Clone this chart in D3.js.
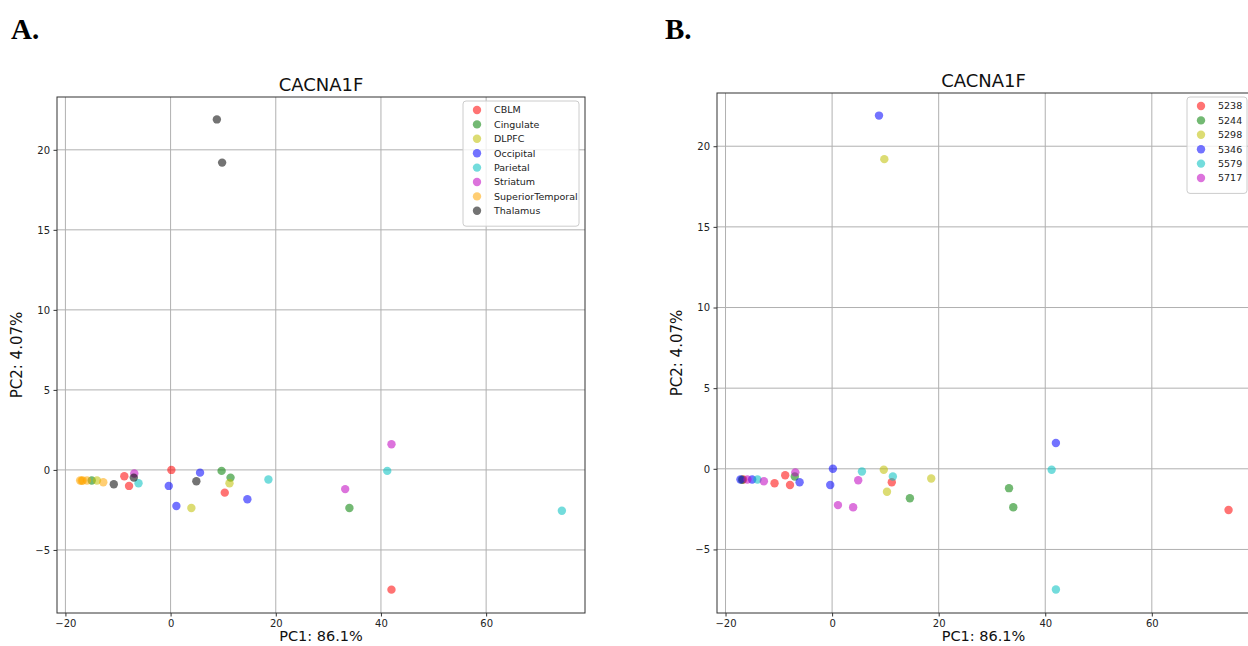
<!DOCTYPE html>
<html>
<head>
<meta charset="utf-8">
<script src="https://cdn.jsdelivr.net/npm/d3@7"></script>
<style>
body{margin:0;background:#fff;}
svg{display:block;font-family:"DejaVu Sans",sans-serif;}
</style>
</head>
<body>
<svg id="fig" width="1248" height="646"></svg>
<script>
// values
var regions = ['CBLM','Cingulate','DLPFC','Occipital','Parietal','Striatum','SuperiorTemporal','Thalamus'];
var regionColors = ['#ff0000','#008000','#bfbf00','#0000ff','#00bfbf','#bf00bf','#ffa500','#000000'];
var individuals = ['5238','5244','5298','5346','5579','5717'];
var indivColors = ['#ff0000','#008000','#bfbf00','#0000ff','#00bfbf','#bf00bf'];

var pc1 = [8.8, 9.8, 42.0, 33.2, 41.2, 74.4, 18.6, -6.1, 42.0, 0.15, 10.3, -8.8, -7.9, 34.0, 9.7, 11.4, 3.95, 11.2,
	-0.35, 1.1, 5.6, 14.6, 4.9, -10.8, -7.0, -6.9, -12.8, -14.0, -15.0, -15.9, -17.2, -16.9, -16.7];
var pc2 = [21.9, 19.2, 1.6, -1.2, -0.06, -2.55, -0.6, -0.83, -7.48, 0.0, -1.42, -0.4, -1.0, -2.38, -0.06, -0.48, -2.38, -0.83,
	-1.0, -2.25, -0.17, -1.83, -0.71, -0.9, -0.48, -0.22, -0.77, -0.66, -0.66, -0.66, -0.66, -0.68, -0.66];
var regionOf = ['Thalamus','Thalamus','Striatum','Striatum','Parietal','Parietal','Parietal','Parietal','CBLM','CBLM','CBLM','CBLM','CBLM',
	'Cingulate','Cingulate','Cingulate','DLPFC','DLPFC','Occipital','Occipital','Occipital','Occipital','Thalamus','Thalamus','Thalamus',
	'Striatum','SuperiorTemporal','DLPFC','Cingulate','SuperiorTemporal','SuperiorTemporal','SuperiorTemporal','SuperiorTemporal'];
var individualOf = ['5346','5298','5346','5244','5579','5238','5298','5346','5579','5346','5298','5238','5238',
	'5244','5298','5579','5717','5238','5346','5717','5579','5244','5717','5238','5244',
	'5717','5717','5579','5346','5717','5346','5244','5238'];

var xTicks = [-20, 0, 20, 40, 60];
var yTicks = [-5, 0, 5, 10, 15, 20];
var xDomain = [-21.6, 78.8];
var yDomain = [-8.94, 23.3];

var svg = d3.select('#fig');

var points = pc1.map(function(d,i){return {x:pc1[i], y:pc2[i], region:regionOf[i], indiv:individualOf[i]};});

function drawPanel(opt){
	var x = d3.scaleLinear().domain(xDomain).range([opt.left, opt.right]);
	var y = d3.scaleLinear().domain(yDomain).range([opt.bottom, opt.top]);
	var g = svg.append('g');

	// grid
	g.selectAll('.gx').data(xTicks).enter().append('line')
		.attr('x1',function(d){return x(d);}).attr('x2',function(d){return x(d);})
		.attr('y1',opt.top).attr('y2',opt.bottom)
		.attr('stroke','#b0b0b0').attr('stroke-width',1);
	g.selectAll('.gy').data(yTicks).enter().append('line')
		.attr('y1',function(d){return y(d);}).attr('y2',function(d){return y(d);})
		.attr('x1',opt.left).attr('x2',opt.right)
		.attr('stroke','#b0b0b0').attr('stroke-width',1);

	// axes
	var xa = g.append('g').attr('transform','translate(0,'+opt.bottom+')')
		.call(d3.axisBottom(x).tickValues(xTicks).tickSize(3.5).tickPadding(3.5).tickSizeOuter(0));
	var ya = g.append('g').attr('transform','translate('+opt.left+',0)')
		.call(d3.axisLeft(y).tickValues(yTicks).tickSize(3.5).tickPadding(3.5).tickSizeOuter(0));
	[xa,ya].forEach(function(a){
		a.select('.domain').remove();
		a.selectAll('text').attr('font-size','10px').attr('fill','#222').attr('font-family','DejaVu Sans, sans-serif');
		a.selectAll('line').attr('stroke','#333');
	});

	// frame
	g.append('rect').attr('x',opt.left).attr('y',opt.top)
		.attr('width',opt.right-opt.left).attr('height',opt.bottom-opt.top)
		.attr('fill','none').attr('stroke','#333').attr('stroke-width',1);

	// points, group by group like the original
	opt.groups.forEach(function(grp,k){
		g.selectAll('.p'+k).data(points.filter(function(d){return d[opt.key]===grp;})).enter()
			.append('circle')
			.attr('cx',function(d){return x(d.x);})
			.attr('cy',function(d){return y(d.y);})
			.attr('r',4.2)
			.attr('fill',opt.colors[k])
			.attr('fill-opacity',0.55);
	});

	// titles
	g.append('text').attr('x',(opt.left+opt.titleRight)/2).attr('y',opt.top-6)
		.attr('text-anchor','middle').attr('font-size','18px').attr('fill','#111').text('CACNA1F');
	g.append('text').attr('x',(opt.left+opt.titleRight)/2).attr('y',641)
		.attr('text-anchor','middle').attr('font-size','14.5px').attr('fill','#111').text('PC1: 86.1%');
	g.append('text').attr('transform','translate('+(opt.left-35)+','+((opt.top+opt.bottom)/2)+') rotate(-90)')
		.attr('text-anchor','middle').attr('font-size','15px').attr('fill','#111').text('PC2: 4.07%');

	// legend
	var lg = g.append('g');
	lg.append('rect').attr('x',opt.legX).attr('y',opt.legY)
		.attr('width',opt.legW).attr('height',opt.groups.length*14.4+10)
		.attr('rx',3).attr('fill','#fff').attr('fill-opacity',0.8).attr('stroke','#ccc');
	lg.selectAll('circle').data(opt.groups).enter().append('circle')
		.attr('cx',opt.legX+14)
		.attr('cy',function(d,i){return opt.legY+9+i*14.4;})
		.attr('r',4.2)
		.attr('fill',function(d,i){return opt.colors[i];})
		.attr('fill-opacity',0.55);
	lg.selectAll('text').data(opt.groups).enter().append('text')
		.attr('x',opt.legX+opt.textOff)
		.attr('y',function(d,i){return opt.legY+9+i*14.4;})
		.attr('dy','0.35em')
		.attr('font-size','9.5px').attr('fill','#222')
		.text(function(d){return d;});
}

drawPanel({left:57, right:585, top:97, bottom:613, titleRight:585,
	key:'region', groups:regions, colors:regionColors,
	legX:463, legY:101, legW:116, textOff:31});

drawPanel({left:717, right:1252, top:93, bottom:613, titleRight:1250,
	key:'indiv', groups:individuals, colors:indivColors,
	legX:1187, legY:97, legW:60, textOff:31});

// panel letters
svg.append('text').attr('x',11).attr('y',39).attr('font-family','Liberation Serif, serif')
	.attr('font-weight','bold').attr('font-size','29px').text('A.');
svg.append('text').attr('x',665).attr('y',39).attr('font-family','Liberation Serif, serif')
	.attr('font-weight','bold').attr('font-size','29px').text('B.');
</script>
</body>
</html>
